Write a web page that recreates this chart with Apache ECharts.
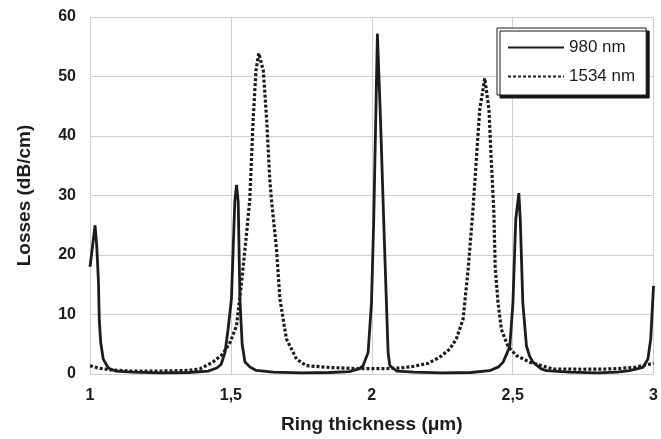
<!DOCTYPE html>
<html>
<head>
<meta charset="utf-8">
<script src="https://cdn.jsdelivr.net/npm/echarts@6/dist/echarts.min.js"></script>
<style>
html,body{margin:0;padding:0;background:#fff;}
#chart{width:661px;height:439px;}
</style>
</head>
<body>
<div id="chart"></div>
<script>
// Ring thickness (µm) and losses (dB/cm)
var x980 = [1.000,1.018,1.024,1.030,1.033,1.038,1.047,1.065,1.090,1.150,1.250,1.350,1.420,1.450,1.465,1.479,1.490,1.502,1.508,1.514,1.520,1.526,1.532,1.540,1.550,1.567,1.590,1.650,1.750,1.850,1.920,1.957,1.969,1.987,1.999,2.007,2.014,2.020,2.031,2.046,2.058,2.064,2.088,2.150,2.250,2.350,2.418,2.450,2.466,2.480,2.490,2.501,2.511,2.522,2.527,2.536,2.549,2.560,2.572,2.600,2.619,2.700,2.800,2.870,2.915,2.962,2.980,2.990,3.000];
var y980 = [18,25,21.5,15.5,9,5.3,2.5,1.0,0.5,0.3,0.2,0.25,0.5,1.0,1.6,3.6,7.5,12.6,20.9,29,31.8,29,12.6,5,2,1.2,0.6,0.3,0.2,0.25,0.4,0.9,1.4,3.6,12,26,42.7,57.2,42.7,20.4,3.6,1.4,0.5,0.3,0.2,0.25,0.55,1.2,2,3.5,4.7,12,26,30.4,26,12,4.7,3,2,0.9,0.55,0.3,0.2,0.3,0.55,1.1,2.5,5.9,14.8];
var x1534 = [1.000,1.030,1.070,1.140,1.250,1.350,1.390,1.436,1.470,1.497,1.520,1.538,1.556,1.567,1.579,1.589,1.599,1.615,1.627,1.638,1.644,1.662,1.674,1.697,1.733,1.768,1.850,1.950,2.050,2.100,2.150,2.200,2.240,2.277,2.300,2.324,2.342,2.353,2.359,2.371,2.383,2.401,2.416,2.424,2.433,2.438,2.448,2.460,2.483,2.513,2.560,2.643,2.750,2.850,2.930,3.000];
var y1534 = [1.4,1.0,0.7,0.5,0.5,0.6,0.85,2,3.3,5.3,8.1,15.4,23.8,29.3,42.7,51,53.9,51,42.7,32.7,29.3,20.9,12.6,5.9,2.5,1.4,1.1,0.9,0.9,1.0,1.3,1.8,2.8,4.2,5.9,9.2,17.6,24,27.6,36,44.4,49.7,44.4,36,27.6,18,12,7.5,4.7,3.1,2,0.84,0.8,0.85,1.1,1.8];
var seriesNames = ['980 nm', '1534 nm'];
var xTicks = [1, 1.5, 2, 2.5, 3];
var yTicks = [0, 10, 20, 30, 40, 50, 60];

function pairs(xs, ys){ return xs.map(function(x,i){ return [x, ys[i]]; }); }

var ink = '#1c1c1c';
var gridCol = '#cfcfcf';
var chart = echarts.init(document.getElementById('chart'), null, {renderer:'canvas'});
chart.setOption({
  animation:false,
  backgroundColor:'#ffffff',
  textStyle:{fontFamily:'Liberation Sans, Arial, sans-serif'},
  grid:{left:90, right:6, top:17, bottom:64, containLabel:false},
  legend:{
    orient:'vertical', left:497, top:28,
    padding:[11,11,10,10],
    itemWidth:56, itemHeight:17, itemGap:12,
    backgroundColor:'#ffffff', borderColor:ink, borderWidth:1,
    shadowColor:'rgba(20,20,20,1)', shadowBlur:0, shadowOffsetX:3, shadowOffsetY:3,
    itemStyle:{opacity:0},
    textStyle:{fontSize:17, color:ink, fontFamily:'Liberation Sans, Arial, sans-serif'},
    data:seriesNames
  },
  xAxis:{
    type:'value', min:xTicks[0], max:xTicks[xTicks.length-1], interval:0.5,
    name:'Ring thickness (\u03bcm)', nameLocation:'middle', nameGap:41,
    nameTextStyle:{fontSize:19, fontWeight:'bold', color:ink},
    axisLine:{show:true, onZero:false, lineStyle:{color:gridCol, width:1}},
    axisTick:{show:false},
    axisLabel:{fontSize:16, fontWeight:'bold', color:ink, margin:14,
      formatter:function(v){ return String(v).replace('.', ','); }},
    splitLine:{show:true, lineStyle:{color:gridCol, width:1}}
  },
  yAxis:{
    type:'value', min:yTicks[0], max:yTicks[yTicks.length-1], interval:10,
    name:'Losses (dB/cm)', nameLocation:'middle', nameGap:56, nameRotate:90,
    nameTextStyle:{fontSize:19, fontWeight:'bold', color:ink},
    axisLine:{show:true, lineStyle:{color:gridCol, width:1}},
    axisTick:{show:false},
    axisLabel:{fontSize:16, fontWeight:'bold', color:ink, margin:14},
    splitLine:{show:true, lineStyle:{color:gridCol, width:1}}
  },
  series:[
    {name:seriesNames[0], type:'line', data:pairs(x980, y980), symbol:'none', smooth:false,
     lineStyle:{color:ink, width:2.8, type:'solid'}, itemStyle:{color:ink}, z:3},
    {name:seriesNames[1], type:'line', data:pairs(x1534, y1534), symbol:'none', smooth:false,
     lineStyle:{color:ink, width:3.2, type:[3,2]}, itemStyle:{color:ink}, z:2}
  ]
});
</script>
</body>
</html>
